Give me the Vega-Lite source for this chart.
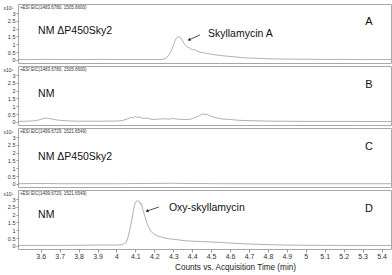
{
  "$schema": "https://vega.github.io/schema/vega-lite/v6.json",
  "padding": {"top": 3, "left": 2, "right": 1, "bottom": 1},
  "background": "white",
  "bounds": "flush",
  "spacing": 3,
  "config": {
    "font": "Liberation Sans",
    "view": {"stroke": "#a8a8a8", "strokeWidth": 1},
    "axis": {"grid": false, "domain": false, "labelOverlap": false}
  },
  "datasets": {
    "trace": [
      {"p":"A","t":3.48,"v":0.02},{"p":"A","t":3.55,"v":0.02},{"p":"A","t":3.6,"v":0.03},{"p":"A","t":3.65,"v":0.03},{"p":"A","t":3.7,"v":0.02},{"p":"A","t":3.8,"v":0.02},{"p":"A","t":3.9,"v":0.03},{"p":"A","t":3.95,"v":0.03},{"p":"A","t":4.0,"v":0.02},{"p":"A","t":4.1,"v":0.02},{"p":"A","t":4.2,"v":0.02},{"p":"A","t":4.24,"v":0.03},{"p":"A","t":4.26,"v":0.08},{"p":"A","t":4.28,"v":0.35},{"p":"A","t":4.3,"v":0.9},{"p":"A","t":4.31,"v":1.25},{"p":"A","t":4.32,"v":1.45},{"p":"A","t":4.33,"v":1.48},{"p":"A","t":4.34,"v":1.4},{"p":"A","t":4.35,"v":1.2},{"p":"A","t":4.36,"v":1.0},{"p":"A","t":4.37,"v":0.86},{"p":"A","t":4.38,"v":0.8},{"p":"A","t":4.39,"v":0.74},{"p":"A","t":4.4,"v":0.64},{"p":"A","t":4.41,"v":0.68},{"p":"A","t":4.42,"v":0.6},{"p":"A","t":4.44,"v":0.5},{"p":"A","t":4.46,"v":0.46},{"p":"A","t":4.48,"v":0.4},{"p":"A","t":4.5,"v":0.37},{"p":"A","t":4.52,"v":0.32},{"p":"A","t":4.55,"v":0.28},{"p":"A","t":4.58,"v":0.24},{"p":"A","t":4.62,"v":0.2},{"p":"A","t":4.66,"v":0.15},{"p":"A","t":4.7,"v":0.12},{"p":"A","t":4.75,"v":0.1},{"p":"A","t":4.8,"v":0.07},{"p":"A","t":4.85,"v":0.06},{"p":"A","t":4.9,"v":0.05},{"p":"A","t":5.0,"v":0.04},{"p":"A","t":5.1,"v":0.03},{"p":"A","t":5.2,"v":0.03},{"p":"A","t":5.3,"v":0.02},{"p":"A","t":5.45,"v":0.02},
      {"p":"B","t":3.48,"v":0.03},{"p":"B","t":3.52,"v":0.04},{"p":"B","t":3.56,"v":0.06},{"p":"B","t":3.59,"v":0.12},{"p":"B","t":3.61,"v":0.2},{"p":"B","t":3.63,"v":0.24},{"p":"B","t":3.65,"v":0.2},{"p":"B","t":3.67,"v":0.15},{"p":"B","t":3.7,"v":0.1},{"p":"B","t":3.75,"v":0.06},{"p":"B","t":3.8,"v":0.04},{"p":"B","t":3.85,"v":0.05},{"p":"B","t":3.9,"v":0.04},{"p":"B","t":3.95,"v":0.05},{"p":"B","t":4.0,"v":0.05},{"p":"B","t":4.03,"v":0.08},{"p":"B","t":4.06,"v":0.2},{"p":"B","t":4.08,"v":0.3},{"p":"B","t":4.09,"v":0.25},{"p":"B","t":4.1,"v":0.35},{"p":"B","t":4.11,"v":0.28},{"p":"B","t":4.12,"v":0.32},{"p":"B","t":4.14,"v":0.22},{"p":"B","t":4.16,"v":0.25},{"p":"B","t":4.18,"v":0.18},{"p":"B","t":4.2,"v":0.15},{"p":"B","t":4.22,"v":0.18},{"p":"B","t":4.25,"v":0.2},{"p":"B","t":4.28,"v":0.17},{"p":"B","t":4.3,"v":0.22},{"p":"B","t":4.32,"v":0.18},{"p":"B","t":4.35,"v":0.15},{"p":"B","t":4.38,"v":0.15},{"p":"B","t":4.4,"v":0.2},{"p":"B","t":4.42,"v":0.3},{"p":"B","t":4.44,"v":0.42},{"p":"B","t":4.46,"v":0.52},{"p":"B","t":4.47,"v":0.45},{"p":"B","t":4.48,"v":0.48},{"p":"B","t":4.5,"v":0.35},{"p":"B","t":4.52,"v":0.28},{"p":"B","t":4.55,"v":0.2},{"p":"B","t":4.6,"v":0.15},{"p":"B","t":4.65,"v":0.1},{"p":"B","t":4.7,"v":0.08},{"p":"B","t":4.8,"v":0.05},{"p":"B","t":4.9,"v":0.04},{"p":"B","t":5.0,"v":0.03},{"p":"B","t":5.2,"v":0.03},{"p":"B","t":5.45,"v":0.02},
      {"p":"C","t":3.48,"v":0.01},{"p":"C","t":3.6,"v":0.03},{"p":"C","t":3.7,"v":0.01},{"p":"C","t":4.0,"v":0.01},{"p":"C","t":4.3,"v":0.04},{"p":"C","t":4.4,"v":0.02},{"p":"C","t":4.6,"v":0.01},{"p":"C","t":5.45,"v":0.01},
      {"p":"D","t":3.48,"v":0.03},{"p":"D","t":3.6,"v":0.03},{"p":"D","t":3.7,"v":0.03},{"p":"D","t":3.8,"v":0.04},{"p":"D","t":3.9,"v":0.05},{"p":"D","t":3.95,"v":0.06},{"p":"D","t":4.0,"v":0.05},{"p":"D","t":4.03,"v":0.08},{"p":"D","t":4.05,"v":0.2},{"p":"D","t":4.06,"v":0.5},{"p":"D","t":4.07,"v":1.0},{"p":"D","t":4.08,"v":1.6},{"p":"D","t":4.09,"v":2.3},{"p":"D","t":4.1,"v":2.8},{"p":"D","t":4.11,"v":2.9},{"p":"D","t":4.12,"v":2.85},{"p":"D","t":4.125,"v":2.7},{"p":"D","t":4.13,"v":2.75},{"p":"D","t":4.14,"v":2.3},{"p":"D","t":4.15,"v":1.9},{"p":"D","t":4.16,"v":1.5},{"p":"D","t":4.17,"v":1.2},{"p":"D","t":4.18,"v":0.95},{"p":"D","t":4.19,"v":0.85},{"p":"D","t":4.2,"v":0.75},{"p":"D","t":4.22,"v":0.62},{"p":"D","t":4.25,"v":0.52},{"p":"D","t":4.28,"v":0.45},{"p":"D","t":4.32,"v":0.4},{"p":"D","t":4.36,"v":0.33},{"p":"D","t":4.4,"v":0.3},{"p":"D","t":4.45,"v":0.28},{"p":"D","t":4.5,"v":0.25},{"p":"D","t":4.55,"v":0.22},{"p":"D","t":4.6,"v":0.18},{"p":"D","t":4.65,"v":0.15},{"p":"D","t":4.7,"v":0.12},{"p":"D","t":4.8,"v":0.08},{"p":"D","t":4.9,"v":0.05},{"p":"D","t":5.0,"v":0.04},{"p":"D","t":5.2,"v":0.03},{"p":"D","t":5.45,"v":0.02}
    ],
    "notes": [
      {"p":"A","kind":"eic","x":3.49,"y":3.3,"label":"+ESI EIC(1483.6780, 1505.6600)"},
      {"p":"B","kind":"eic","x":3.49,"y":3.3,"label":"+ESI EIC(1483.6780, 1505.6600)"},
      {"p":"C","kind":"eic","x":3.49,"y":3.3,"label":"+ESI EIC(1499.6729, 1521.6549)"},
      {"p":"D","kind":"eic","x":3.49,"y":3.3,"label":"+ESI EIC(1499.6729, 1521.6549)"},
      {"p":"A","kind":"name","x":3.586,"y":1.85,"label":"NM ΔP450Sky2"},
      {"p":"B","kind":"name","x":3.586,"y":1.8,"label":"NM"},
      {"p":"C","kind":"name","x":3.586,"y":1.7,"label":"NM ΔP450Sky2"},
      {"p":"D","kind":"name","x":3.586,"y":1.95,"label":"NM"},
      {"p":"A","kind":"letter","x":5.333,"y":2.45,"label":"A"},
      {"p":"B","kind":"letter","x":5.333,"y":2.36,"label":"B"},
      {"p":"C","kind":"letter","x":5.333,"y":2.36,"label":"C"},
      {"p":"D","kind":"letter","x":5.333,"y":2.36,"label":"D"},
      {"p":"A","kind":"cmp","x":4.483,"y":1.66,"label":"Skyllamycin A"},
      {"p":"D","kind":"cmp","x":4.277,"y":2.42,"label":"Oxy-skyllamycin"}
    ],
    "arrows": [
      {"p":"A","x":4.441,"y":1.6,"x2":4.383,"y2":1.28},
      {"p":"D","x":4.224,"y":2.49,"x2":4.161,"y2":2.23}
    ]
  },
  "vconcat": [
    {
      "width": 373, "height": 59,
      "layer": [
        {"data": {"name": "trace"}, "transform": [{"filter": "datum.p === 'A'"}],
         "mark": {"type": "line", "color": "#9c9c9c", "strokeWidth": 0.8, "clip": true},
         "encoding": {
           "x": {"field": "t", "type": "quantitative", "scale": {"domain": [3.48, 5.45], "nice": false, "zero": false}, "axis": null},
           "y": {"field": "v", "type": "quantitative", "scale": {"domain": [-0.2, 3.58], "nice": false}, "axis": {"values": [0,0.5,1,1.5,2,2.5,3], "tickCount": 20, "format": "~g", "labelFontSize": 5.5, "labelColor": "#333", "tickSize": 2, "tickColor": "#999", "labelPadding": 1, "title": "x10⁵", "titleAngle": 0, "titleFontSize": 5, "titleFontWeight": "normal", "titleColor": "#333", "titleAlign": "left", "titleBaseline": "middle", "titleX": -15, "titleY": 3}}
         }},
        {"data": {"name": "notes"}, "transform": [{"filter": "datum.p === 'A' && datum.kind === 'eic'"}], "mark": {"type": "text", "align": "left", "baseline": "middle", "fontSize": 4.5, "color": "#333"}, "encoding": {"x": {"field": "x", "type": "quantitative"}, "y": {"field": "y", "type": "quantitative"}, "text": {"field": "label"}}},
        {"data": {"name": "notes"}, "transform": [{"filter": "datum.p === 'A' && datum.kind === 'name'"}], "mark": {"type": "text", "align": "left", "baseline": "middle", "fontSize": 10.5, "color": "#111"}, "encoding": {"x": {"field": "x", "type": "quantitative"}, "y": {"field": "y", "type": "quantitative"}, "text": {"field": "label"}}},
        {"data": {"name": "notes"}, "transform": [{"filter": "datum.p === 'A' && datum.kind === 'letter'"}], "mark": {"type": "text", "align": "center", "baseline": "middle", "fontSize": 11, "color": "#111"}, "encoding": {"x": {"field": "x", "type": "quantitative"}, "y": {"field": "y", "type": "quantitative"}, "text": {"field": "label"}}},
        {"data": {"name": "notes"}, "transform": [{"filter": "datum.p === 'A' && datum.kind === 'cmp'"}], "mark": {"type": "text", "align": "left", "baseline": "middle", "fontSize": 10.5, "color": "#111"}, "encoding": {"x": {"field": "x", "type": "quantitative"}, "y": {"field": "y", "type": "quantitative"}, "text": {"field": "label"}}},
        {"data": {"name": "arrows"}, "transform": [{"filter": "datum.p === 'A'"}], "mark": {"type": "rule", "color": "#222", "strokeWidth": 0.8}, "encoding": {"x": {"field": "x", "type": "quantitative"}, "y": {"field": "y", "type": "quantitative"}, "x2": {"field": "x2"}, "y2": {"field": "y2"}}},
        {"data": {"name": "arrows"}, "transform": [{"filter": "datum.p === 'A'"}], "mark": {"type": "point", "shape": "triangle-up", "filled": true, "color": "#222", "size": 12, "angle": 246, "opacity": 1}, "encoding": {"x": {"field": "x2", "type": "quantitative"}, "y": {"field": "y2", "type": "quantitative"}}}
      ]
    },
    {
      "width": 373, "height": 59,
      "layer": [
        {"data": {"name": "trace"}, "transform": [{"filter": "datum.p === 'B'"}],
         "mark": {"type": "line", "color": "#9c9c9c", "strokeWidth": 0.8, "clip": true},
         "encoding": {
           "x": {"field": "t", "type": "quantitative", "scale": {"domain": [3.48, 5.45], "nice": false, "zero": false}, "axis": null},
           "y": {"field": "v", "type": "quantitative", "scale": {"domain": [-0.2, 3.58], "nice": false}, "axis": {"values": [0,0.5,1,1.5,2,2.5,3], "tickCount": 20, "format": "~g", "labelFontSize": 5.5, "labelColor": "#333", "tickSize": 2, "tickColor": "#999", "labelPadding": 1, "title": "x10⁵", "titleAngle": 0, "titleFontSize": 5, "titleFontWeight": "normal", "titleColor": "#333", "titleAlign": "left", "titleBaseline": "middle", "titleX": -15, "titleY": 3}}
         }},
        {"data": {"name": "notes"}, "transform": [{"filter": "datum.p === 'B' && datum.kind === 'eic'"}], "mark": {"type": "text", "align": "left", "baseline": "middle", "fontSize": 4.5, "color": "#333"}, "encoding": {"x": {"field": "x", "type": "quantitative"}, "y": {"field": "y", "type": "quantitative"}, "text": {"field": "label"}}},
        {"data": {"name": "notes"}, "transform": [{"filter": "datum.p === 'B' && datum.kind === 'name'"}], "mark": {"type": "text", "align": "left", "baseline": "middle", "fontSize": 10.5, "color": "#111"}, "encoding": {"x": {"field": "x", "type": "quantitative"}, "y": {"field": "y", "type": "quantitative"}, "text": {"field": "label"}}},
        {"data": {"name": "notes"}, "transform": [{"filter": "datum.p === 'B' && datum.kind === 'letter'"}], "mark": {"type": "text", "align": "center", "baseline": "middle", "fontSize": 11, "color": "#111"}, "encoding": {"x": {"field": "x", "type": "quantitative"}, "y": {"field": "y", "type": "quantitative"}, "text": {"field": "label"}}}
      ]
    },
    {
      "width": 373, "height": 59,
      "layer": [
        {"data": {"name": "trace"}, "transform": [{"filter": "datum.p === 'C'"}],
         "mark": {"type": "line", "color": "#9c9c9c", "strokeWidth": 0.8, "clip": true},
         "encoding": {
           "x": {"field": "t", "type": "quantitative", "scale": {"domain": [3.48, 5.45], "nice": false, "zero": false}, "axis": null},
           "y": {"field": "v", "type": "quantitative", "scale": {"domain": [-0.2, 3.58], "nice": false}, "axis": {"values": [0,0.5,1,1.5,2,2.5,3], "tickCount": 20, "format": "~g", "labelFontSize": 5.5, "labelColor": "#333", "tickSize": 2, "tickColor": "#999", "labelPadding": 1, "title": "x10⁵", "titleAngle": 0, "titleFontSize": 5, "titleFontWeight": "normal", "titleColor": "#333", "titleAlign": "left", "titleBaseline": "middle", "titleX": -15, "titleY": 3}}
         }},
        {"data": {"name": "notes"}, "transform": [{"filter": "datum.p === 'C' && datum.kind === 'eic'"}], "mark": {"type": "text", "align": "left", "baseline": "middle", "fontSize": 4.5, "color": "#333"}, "encoding": {"x": {"field": "x", "type": "quantitative"}, "y": {"field": "y", "type": "quantitative"}, "text": {"field": "label"}}},
        {"data": {"name": "notes"}, "transform": [{"filter": "datum.p === 'C' && datum.kind === 'name'"}], "mark": {"type": "text", "align": "left", "baseline": "middle", "fontSize": 10.5, "color": "#111"}, "encoding": {"x": {"field": "x", "type": "quantitative"}, "y": {"field": "y", "type": "quantitative"}, "text": {"field": "label"}}},
        {"data": {"name": "notes"}, "transform": [{"filter": "datum.p === 'C' && datum.kind === 'letter'"}], "mark": {"type": "text", "align": "center", "baseline": "middle", "fontSize": 11, "color": "#111"}, "encoding": {"x": {"field": "x", "type": "quantitative"}, "y": {"field": "y", "type": "quantitative"}, "text": {"field": "label"}}}
      ]
    },
    {
      "width": 373, "height": 59,
      "layer": [
        {"data": {"name": "trace"}, "transform": [{"filter": "datum.p === 'D'"}],
         "mark": {"type": "line", "color": "#9c9c9c", "strokeWidth": 0.8, "clip": true},
         "encoding": {
           "x": {"field": "t", "type": "quantitative", "scale": {"domain": [3.48, 5.45], "nice": false, "zero": false}, "axis": {"values": [3.6,3.7,3.8,3.9,4,4.1,4.2,4.3,4.4,4.5,4.6,4.7,4.8,4.9,5,5.1,5.2,5.3,5.4], "tickCount": 40, "format": "~g", "labelFontSize": 7, "labelColor": "#333", "tickSize": 3, "tickColor": "#999", "labelPadding": 0, "title": "Counts vs. Acquisition Time (min)", "titleFontSize": 8.2, "titleFontWeight": "normal", "titleColor": "#222", "titlePadding": 4, "titleX": 217}},
           "y": {"field": "v", "type": "quantitative", "scale": {"domain": [-0.2, 3.58], "nice": false}, "axis": {"values": [0,0.5,1,1.5,2,2.5,3], "tickCount": 20, "format": "~g", "labelFontSize": 5.5, "labelColor": "#333", "tickSize": 2, "tickColor": "#999", "labelPadding": 1, "title": "x10⁵", "titleAngle": 0, "titleFontSize": 5, "titleFontWeight": "normal", "titleColor": "#333", "titleAlign": "left", "titleBaseline": "middle", "titleX": -15, "titleY": 3}}
         }},
        {"data": {"name": "notes"}, "transform": [{"filter": "datum.p === 'D' && datum.kind === 'eic'"}], "mark": {"type": "text", "align": "left", "baseline": "middle", "fontSize": 4.5, "color": "#333"}, "encoding": {"x": {"field": "x", "type": "quantitative"}, "y": {"field": "y", "type": "quantitative"}, "text": {"field": "label"}}},
        {"data": {"name": "notes"}, "transform": [{"filter": "datum.p === 'D' && datum.kind === 'name'"}], "mark": {"type": "text", "align": "left", "baseline": "middle", "fontSize": 10.5, "color": "#111"}, "encoding": {"x": {"field": "x", "type": "quantitative"}, "y": {"field": "y", "type": "quantitative"}, "text": {"field": "label"}}},
        {"data": {"name": "notes"}, "transform": [{"filter": "datum.p === 'D' && datum.kind === 'letter'"}], "mark": {"type": "text", "align": "center", "baseline": "middle", "fontSize": 11, "color": "#111"}, "encoding": {"x": {"field": "x", "type": "quantitative"}, "y": {"field": "y", "type": "quantitative"}, "text": {"field": "label"}}},
        {"data": {"name": "notes"}, "transform": [{"filter": "datum.p === 'D' && datum.kind === 'cmp'"}], "mark": {"type": "text", "align": "left", "baseline": "middle", "fontSize": 10.5, "color": "#111"}, "encoding": {"x": {"field": "x", "type": "quantitative"}, "y": {"field": "y", "type": "quantitative"}, "text": {"field": "label"}}},
        {"data": {"name": "arrows"}, "transform": [{"filter": "datum.p === 'D'"}], "mark": {"type": "rule", "color": "#222", "strokeWidth": 0.8}, "encoding": {"x": {"field": "x", "type": "quantitative"}, "y": {"field": "y", "type": "quantitative"}, "x2": {"field": "x2"}, "y2": {"field": "y2"}}},
        {"data": {"name": "arrows"}, "transform": [{"filter": "datum.p === 'D'"}], "mark": {"type": "point", "shape": "triangle-up", "filled": true, "color": "#222", "size": 12, "angle": 252, "opacity": 1}, "encoding": {"x": {"field": "x2", "type": "quantitative"}, "y": {"field": "y2", "type": "quantitative"}}}
      ]
    }
  ]
}
